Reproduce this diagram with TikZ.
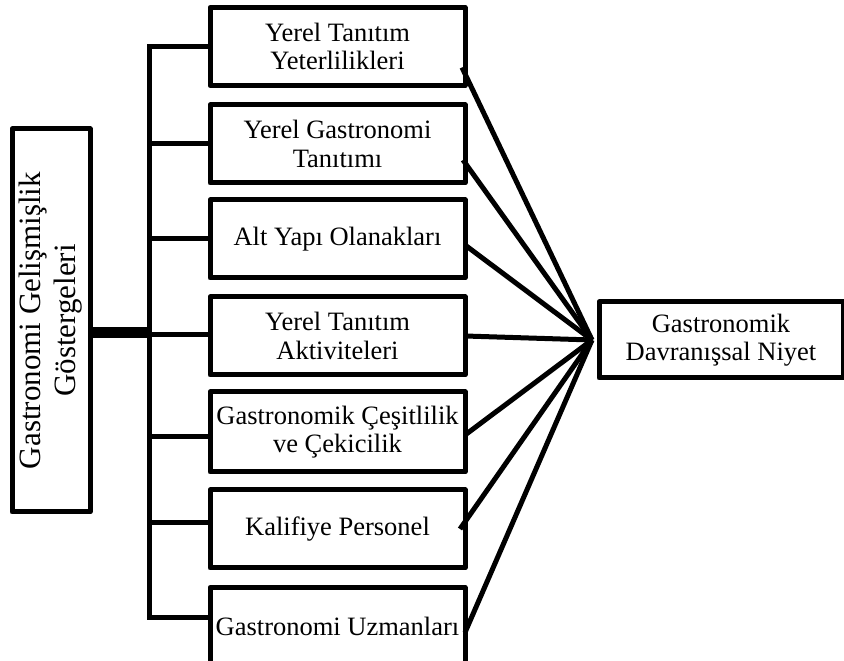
\documentclass[tikz,border=0pt]{standalone}
\usepackage{fontspec}
\setmainfont{Liberation Serif}
\usetikzlibrary{calc}
\begin{document}
\begin{tikzpicture}[x=1pt,y=1pt,
  box/.style={draw, line width=5pt, minimum width=255pt, minimum height=78pt,
    inner sep=1pt, outer sep=0pt, align=center, line join=round,
    font=\fontsize{26.5}{28.5}\selectfont},
  conn/.style={line width=5pt},
]
\clip (0,0) rectangle (844,661);
\fill[white] (0,0) rectangle (844,661);

% left box
\node[draw, line width=5pt, line join=round, minimum width=78pt, minimum height=383pt,
  inner sep=0pt, outer sep=0pt] (left) at (51,340.5)
  {\rotatebox{90}{\fontsize{31}{35}\selectfont\begin{tabular}{@{}c@{}}Gastronomi Gelişmişlik\\Göstergeleri\end{tabular}}};

% middle boxes
\node[box] (box1) at (337.5,614.5) {Yerel Tanıtım\\Yeterlilikleri};
\node[box] (box2) at (337.5,517) {Yerel Gastronomi\\Tanıtımı};
\node[box] (box3) at (337.5,422) {Alt Yapı Olanakları};
\node[box] (box4) at (337.5,325) {Yerel Tanıtım\\Aktiviteleri};
\node[box, minimum height=80pt] (box5) at (337.5,229) {Gastronomik Çeşitlilik\\ve Çekicilik};
\node[box] (box6) at (337.5,132) {Kalifiye Personel};
\node[box] (box7) at (337.5,34.5) {Gastronomi Uzmanları};

% right box
\node[box, minimum width=244pt, minimum height=76pt] (rbox) at (721,321) {Gastronomik\\Davranışsal Niyet};

% tree connectors
\coordinate (b5) at ([yshift=-5pt]box5.west);
\coordinate (b6) at ([yshift=6pt]box6.west);
\coordinate (b7) at ([yshift=9pt]box7.west);
\draw[conn, line join=miter] (box1.west) -| ($(b7)+(-61,0)$) -- (b7);
\draw[conn] (box2.west) -- ++(-61,0);
\draw[conn] (box3.west) -- ++(-61,0);
\draw[conn] ([yshift=1pt]box4.west) -- ++(-61,0);
\draw[conn] (b5) -- ++(-61,0);
\draw[conn] (b6) -- ++(-61,0);
\draw[line width=11pt] ([yshift=-12pt]left.east) -- ++(60,0);

% converging connectors
\coordinate (conv) at ([xshift=-7pt]rbox.west);
\draw[conn] ([shift={(-3,-21)}]box1.east) -- (conv);
\draw[conn] ([shift={(-2,-16)}]box2.east) -- (conv);
\draw[conn] ([yshift=-6pt]box3.east) -- (conv);
\draw[conn] (box4.east) -- (conv);
\draw[conn] ([yshift=-3pt]box5.east) -- (conv);
\draw[conn] ([xshift=-5pt]box6.east) -- (conv);
\draw[conn] ([yshift=-6pt]box7.east) -- (conv);
\end{tikzpicture}
\end{document}
